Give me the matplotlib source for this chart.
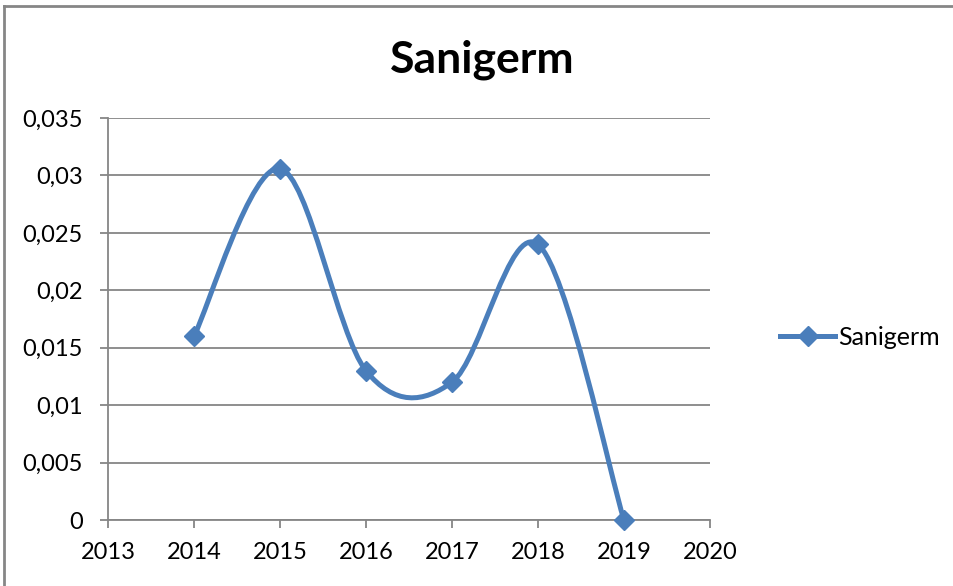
import matplotlib
matplotlib.use('Agg')
import matplotlib.pyplot as plt
from matplotlib.path import Path
from matplotlib.patches import PathPatch
from matplotlib.lines import Line2D
from matplotlib.ticker import FuncFormatter

plt.rcParams.update({
    'font.family': ['Lato', 'DejaVu Sans'],
    'font.size': 17,
})

years = [2014, 2015, 2016, 2017, 2018, 2019]
values = [0.016, 0.0306, 0.013, 0.012, 0.024, 0.0]
series_name = 'Sanigerm'
blue = '#4a7ebb'
grey = '#868686'

fig = plt.figure(figsize=(9.54, 5.86), dpi=100)
ax = fig.add_axes([0.1132, 0.1126, 0.631, 0.686])

# Excel-style smoothed line: cubic Bezier segments (Catmull-Rom, tension 1/6)
pts = list(zip(years, values))
verts = [pts[0]]
codes = [Path.MOVETO]
for i in range(len(pts) - 1):
    p0 = pts[i - 1] if i > 0 else pts[i]
    p1 = pts[i]
    p2 = pts[i + 1]
    p3 = pts[i + 2] if i + 2 < len(pts) else pts[i + 1]
    c1 = (p1[0] + (p2[0] - p0[0]) / 6, p1[1] + (p2[1] - p0[1]) / 6)
    c2 = (p2[0] - (p3[0] - p1[0]) / 6, p2[1] - (p3[1] - p1[1]) / 6)
    verts += [c1, c2, p2]
    codes += [Path.CURVE4] * 3
ax.add_patch(PathPatch(Path(verts, codes), facecolor='none', edgecolor=blue,
                       lw=3.6, capstyle='round', joinstyle='round', zorder=3))
ax.plot(years, values, linestyle='none', marker='D', markersize=10,
        color=blue, zorder=4, clip_on=False)

ax.set_xlim(2013, 2020)
ax.set_ylim(0, 0.035)
ax.set_xticks(range(2013, 2021))
ax.set_yticks([i * 0.005 for i in range(8)])
ax.yaxis.set_major_formatter(FuncFormatter(
    lambda v, p: '0' if abs(v) < 1e-12 else f'{v:.3f}'.rstrip('0').replace('.', ',')))

ax.grid(axis='y', color=grey, lw=1.3)
ax.set_axisbelow(True)
for s in ['top', 'right']:
    ax.spines[s].set_visible(False)
for s in ['left', 'bottom']:
    ax.spines[s].set_color(grey)
    ax.spines[s].set_linewidth(1.3)
ax.tick_params(axis='both', color=grey, width=1.3, length=6, labelsize=17)
ax.tick_params(axis='y', pad=12)
ax.tick_params(axis='x', pad=10)

fig.text(0.506, 0.877, 'Sanigerm', fontsize=32, fontweight='bold',
         ha='center', va='baseline')

handle = Line2D([], [], color=blue, lw=3.6, marker='D', markersize=10)
ax.legend([handle], [series_name], loc='center left', bbox_to_anchor=(1.117, 0.455),
          frameon=False, fontsize=18, handlelength=2.2, handletextpad=0.1,
          borderpad=0, borderaxespad=0)

# outer chart border
fig.add_artist(Line2D([0.0045, 0.0045], [0, 0.99], color=grey, lw=2))
fig.add_artist(Line2D([0.0045, 1.0], [0.99, 0.99], color=grey, lw=2))

fig.savefig('out.png', dpi=100, facecolor='white')
